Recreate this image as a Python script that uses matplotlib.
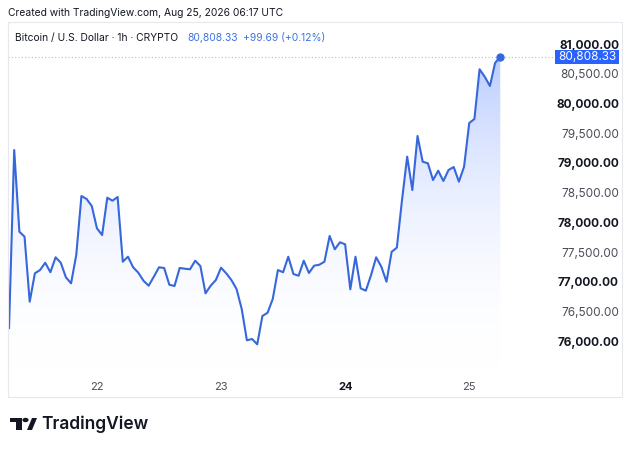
import numpy as np
import matplotlib.pyplot as plt
from matplotlib.patches import Polygon, Rectangle, Circle
from matplotlib.colors import LinearSegmentedColormap

# hourly closes, hours counted from Aug 22 00:00 UTC
hours = list(range(-17, 79))
closes = [
    76246, 79242, 77867, 77783, 76689, 77167, 77222, 77345, 77184, 77436,
    77345, 77099, 76998, 77475, 78468, 78418, 78300, 77924, 77811, 78439,
    78389, 78451, 77362, 77446, 77268, 77177, 77042, 76958, 77109, 77268,
    77256, 76975, 76953, 77256, 77244, 77234, 77379, 77290, 76830, 76958,
    77054, 77261, 77167, 77054, 76902, 76566, 76039, 76061, 75971, 76448,
    76503, 76734, 77222, 77184, 77446, 77155, 77126, 77379, 77172, 77295,
    77311, 77362, 77795, 77571, 77689, 77655, 76897, 77446, 76914, 76874,
    77133, 77436, 77278, 77025, 77530, 77598, 78401, 79130, 78569, 79478,
    79045, 79019, 78737, 78894, 78721, 78906, 78956, 78709, 78961, 79697,
    79764, 80601, 80476, 80320, 80709, 80808.33,
]
day_labels = ["22", "23", "24", "25"]
day_pos = [0, 24, 48, 72]
price_ticks = [76000, 76500, 77000, 77500, 78000, 78500, 79000, 79500, 80000, 80500, 81000]
last_price = closes[-1]

W, H = 631, 450
fig = plt.figure(figsize=(W / 100, H / 100), dpi=100)
plt.rcParams['font.family'] = ['Inter', 'DejaVu Sans']

def fx(px):
    return px / W

def fy(py):
    return 1 - py / H

# widget border
fig.patches.append(Rectangle((fx(8), fy(397)), fx(614), 375 / H, transform=fig.transFigure,
                             fill=False, edgecolor='#e6e8ee', linewidth=0.8))

ax = fig.add_axes([fx(8), fy(370), fx(545), 348 / H])
ax.axis('off')

line_col = '#3667db'
x = np.array(hours, dtype=float)
y = np.array(closes, dtype=float)
ylo, yhi = 75539, 81397

# gradient area under the line
cmap = LinearSegmentedColormap.from_list('area', [(1, 1, 1, 0), (0.16, 0.38, 1.0, 0.32)])
grad = np.linspace(0, 1, 256).reshape(-1, 1)
img = ax.imshow(grad, extent=[x[0], x[-1], ylo, y.max()], origin='lower', cmap=cmap,
                aspect='auto', zorder=1, interpolation='bicubic')
poly = Polygon(np.column_stack([np.r_[x, x[-1], x[0]], np.r_[y, ylo, ylo]]),
               closed=True, facecolor='none', edgecolor='none')
ax.add_patch(poly)
img.set_clip_path(poly)
ax.set_xlim(-17.2, 88.2)
ax.set_ylim(ylo, yhi)

ax.plot(x, y, color=line_col, linewidth=1.5, zorder=3, solid_joinstyle='round')
ax.plot(x[-1], y[-1], 'o', color=line_col, markersize=5, zorder=4)
ax.axhline(last_price, color='#b8bcc6', linewidth=0.8, linestyle=(0, (1, 2)), zorder=2)

# right price scale
for p in price_ticks:
    yy = ax.transData.transform((0, p))[1] / H
    bold = p % 1000 == 0
    fig.text(fx(619), yy, f"{p:,.2f}", ha='right', va='center', fontsize=8.5,
             color='#131722' if bold else '#4a4e59', fontweight='bold' if bold else 'normal')

yl = ax.transData.transform((0, last_price))[1] / H
fig.patches.append(Rectangle((fx(555), yl - 7 / H), fx(64), 14 / H, transform=fig.transFigure,
                             facecolor='#2962ff', edgecolor='none', zorder=5))
fig.text(fx(587), yl, f"{last_price:,.2f}", ha='center', va='center', fontsize=8.5,
         color='white', zorder=6)

# time axis
for h, lab in zip(day_pos, day_labels):
    xx = ax.transData.transform((h, 0))[0] / W
    fig.text(xx, fy(387), lab, ha='center', va='center', fontsize=8,
             color='#131722' if lab == "24" else '#4a4e59',
             fontweight='bold' if lab == "24" else 'normal')

# header texts
fig.text(fx(8), fy(13), "Created with TradingView.com, Aug 25, 2026 06:17 UTC",
         ha='left', va='center', fontsize=7.4, color='#131722')
fig.text(fx(15), fy(38), "Bitcoin / U.S. Dollar · 1h · CRYPTO",
         ha='left', va='center', fontsize=7.4, color='#131722')
fig.text(fx(187), fy(38), "80,808.33", ha='left', va='center', fontsize=7.4, color='#3d74e0')
fig.text(fx(243), fy(38), "+99.69 (+0.12%)", ha='left', va='center', fontsize=7.4, color='#3d74e0')

# TradingView logo
logo = '#131722'
fig.patches.append(Rectangle((fx(10), fy(422)), fx(12), 4 / H, transform=fig.transFigure,
                             facecolor=logo, edgecolor='none'))
fig.patches.append(Rectangle((fx(16), fy(430)), fx(6), 12 / H, transform=fig.transFigure,
                             facecolor=logo, edgecolor='none'))
fig.patches.append(Circle((fx(25.5), fy(420)), 2.2 / H, transform=fig.transFigure,
                          facecolor=logo, edgecolor='none'))
fig.patches.append(Polygon([(fx(27), fy(430)), (fx(32), fy(430)), (fx(37), fy(418)), (fx(32), fy(418))],
                           closed=True, transform=fig.transFigure, facecolor=logo, edgecolor='none'))
fig.text(fx(41), fy(424), "TradingView", ha='left', va='center', fontsize=12.5,
         color=logo, fontweight='semibold')

fig.savefig('out.png', dpi=100)
